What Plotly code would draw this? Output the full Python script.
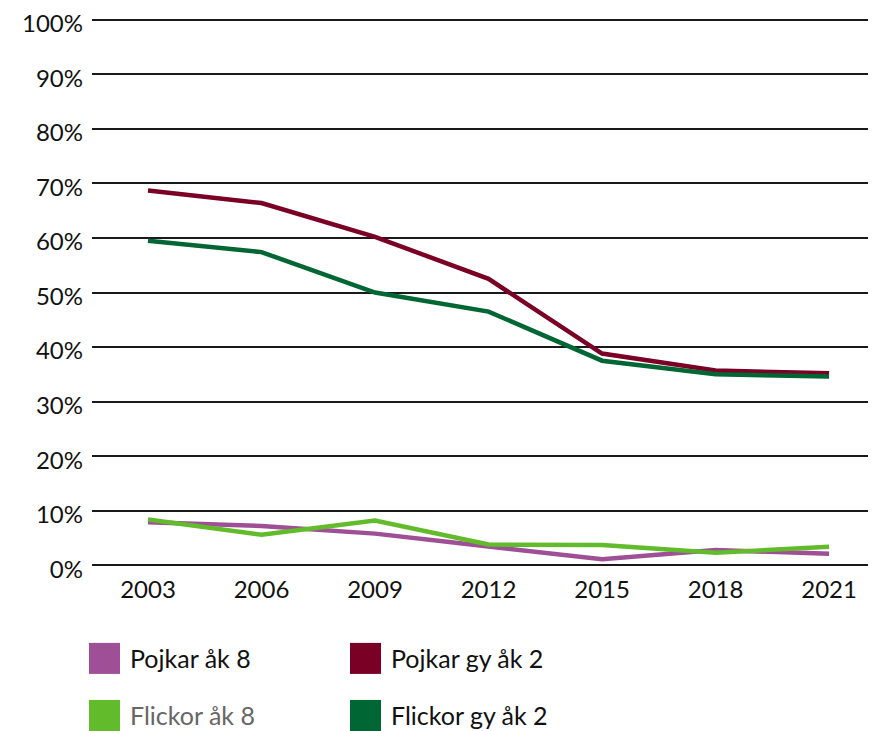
import plotly.graph_objects as go

years = [2003, 2006, 2009, 2012, 2015, 2018, 2021]
pojkar_ak8 = [7.9, 7.2, 5.8, 3.4, 1.1, 2.8, 2.1]
flickor_ak8 = [8.4, 5.6, 8.2, 3.8, 3.7, 2.3, 3.4]
pojkar_gy2 = [68.7, 66.4, 60.2, 52.5, 38.8, 35.7, 35.2]
flickor_gy2 = [59.5, 57.4, 50.0, 46.5, 37.5, 35.0, 34.6]

y_ticks = [0, 10, 20, 30, 40, 50, 60, 70, 80, 90, 100]
y_tick_labels = [f"{v}%" for v in y_ticks]

series = [
    ("Pojkar åk 8", pojkar_ak8, "#9E4F96"),
    ("Flickor åk 8", flickor_ak8, "#62BB2B"),
    ("Pojkar gy åk 2", pojkar_gy2, "#7A0026"),
    ("Flickor gy åk 2", flickor_gy2, "#006633"),
]

FONT = "Lato"

fig = go.Figure()
for name, vals, color in series:
    fig.add_trace(go.Scatter(
        x=years, y=vals, mode="lines", name=name,
        line=dict(color=color, width=4.5), showlegend=False,
    ))

legend_items = [
    ("Pojkar åk 8", "#9E4F96", "#111111", 0),
    ("Pojkar gy åk 2", "#7A0026", "#111111", 1),
    ("Flickor åk 8", "#62BB2B", "#666666", 2),
    ("Flickor gy åk 2", "#006633", "#111111", 3),
]
# page body has an 8px margin; work in page pixels and offset
OFF = 8
W, H = 876 - OFF, 731 - OFF
col_x = [89 - OFF, 350 - OFF]
row_y = [658 - OFF, 715 - OFF]
sw = 31
pl, pr, pt = 92 - OFF, 0, 17.3 - OFF
pb = H - (567.7 - OFF)
pw, ph = W - pl - pr, H - pt - pb


def px2paper(x, y):
    return (x - pl) / pw, 1 - (y - pt) / ph


for label, color, tcolor, i in legend_items:
    cx = col_x[i % 2]
    cy = row_y[i // 2]
    x0, y0 = px2paper(cx, cy - sw / 2)
    x1, y1 = px2paper(cx + sw, cy + sw / 2)
    fig.add_shape(type="rect", xref="paper", yref="paper",
                  x0=x0, x1=x1, y0=y1, y1=y0, line=dict(width=0), fillcolor=color)
    ax, ay = px2paper(cx + sw + 8, cy)
    fig.add_annotation(x=ax, y=ay, xref="paper", yref="paper", text=label,
                       showarrow=False, xanchor="left", yanchor="middle",
                       font=dict(family=FONT, size=25, color=tcolor))

fig.update_layout(
    width=W, height=H,
    margin=dict(l=pl, r=pr, t=pt, b=pb, autoexpand=False),
    plot_bgcolor="white", paper_bgcolor="white",
    xaxis=dict(range=[2001.52, 2022.24], tickvals=years, ticktext=[str(y) for y in years],
               showgrid=False, zeroline=False, showline=False, ticks="",
               automargin=False, ticklabelstandoff=5, ticklabeloverflow="allow",
               tickfont=dict(family=FONT, size=24, color="#111111"),
               fixedrange=True),
    yaxis=dict(range=[-0.5, 100.5], tickvals=y_ticks, ticktext=y_tick_labels,
               showgrid=True, gridcolor="#1a1a1a", gridwidth=2,
               zeroline=False, showline=False, ticks="",
               automargin=False, ticklabelstandoff=8, ticklabeloverflow="allow",
               ticklabelshift=4,
               tickfont=dict(family=FONT, size=24, color="#111111"),
               fixedrange=True),
    showlegend=False,
)

fig.write_html("out.html")
